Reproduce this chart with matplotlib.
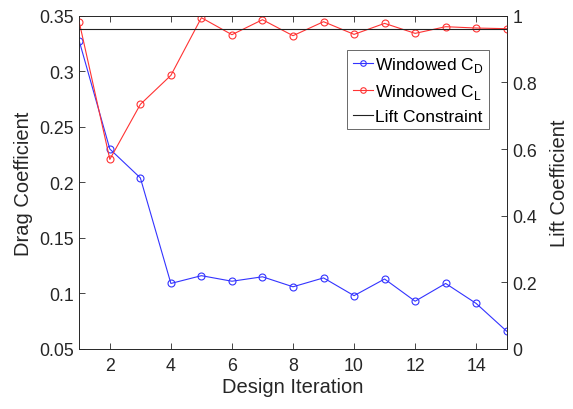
import matplotlib.pyplot as plt
import numpy as np

plt.rcParams['font.family'] = ['Liberation Sans', 'DejaVu Sans']
plt.rcParams['mathtext.fontset'] = 'custom'
plt.rcParams['mathtext.rm'] = 'Liberation Sans'

iteration = np.arange(1, 16)
drag = [0.327, 0.230, 0.204, 0.109, 0.116, 0.111, 0.115, 0.106, 0.114,
        0.098, 0.113, 0.093, 0.109, 0.091, 0.066]
lift = [0.980, 0.569, 0.734, 0.821, 0.994, 0.943, 0.988, 0.940, 0.982,
        0.944, 0.977, 0.947, 0.967, 0.963, 0.961]
lift_target = 0.961

fig = plt.figure(figsize=(5.73, 4.10), dpi=100)
ax = fig.add_axes([79.3 / 573, 1 - 350 / 410, 427.4 / 573, 333.3 / 410])
ax2 = ax.twinx()

l1, = ax.plot(iteration, drag, '-o', color='#3333ff', lw=0.8, ms=5,
              mfc='none', mew=0.8, label='Windowed C$_\\mathregular{D}$')
l2, = ax2.plot(iteration, lift, '-o', color='#ff3333', lw=0.8, ms=5,
               mfc='none', mew=0.8, label='Windowed C$_\\mathregular{L}$')
l3, = ax2.plot([iteration[0], iteration[-1]], [lift_target, lift_target],
               color='#222222', lw=0.8, label='Lift Constraint')

ax.set_xlim(1, 15)
ax.set_ylim(0.05, 0.35)
ax2.set_ylim(0, 1)
ax.set_xticks(range(2, 15, 2))
ax.set_yticks(np.arange(0.05, 0.351, 0.05))
ax.set_yticklabels(['0.05', '0.1', '0.15', '0.2', '0.25', '0.3', '0.35'])
ax2.set_yticks(np.arange(0, 1.01, 0.2))
ax2.set_yticklabels(['0', '0.2', '0.4', '0.6', '0.8', '1'])

for a in (ax, ax2):
    a.tick_params(direction='in', length=4, width=0.6, labelsize=12.8,
                  colors='#262626', top=True, pad=4)
    for s in a.spines.values():
        s.set_color('#262626')
        s.set_linewidth(0.6)
ax.tick_params(axis='x', top=True, pad=6)

ax.set_xlabel('Design Iteration', fontsize=14.5, color='#262626', labelpad=2)
ax.set_ylabel('Drag Coefficient', fontsize=14.5, color='#262626', labelpad=4)
ax2.set_ylabel('Lift Coefficient', fontsize=14.5, color='#262626', labelpad=9)

leg = ax2.legend(handles=[l1, l2, l3], loc='upper right',
                 bbox_to_anchor=(0.959, 0.897), fontsize=12.5, frameon=True,
                 fancybox=False, edgecolor='#262626', handlelength=1.2,
                 handletextpad=0.1, borderpad=0.3, labelspacing=0.45,
                 borderaxespad=0)
leg.get_frame().set_linewidth(0.6)
for h in leg.legend_handles[:2]:
    h.set_markersize(4)

fig.savefig('out.png', dpi=100)
